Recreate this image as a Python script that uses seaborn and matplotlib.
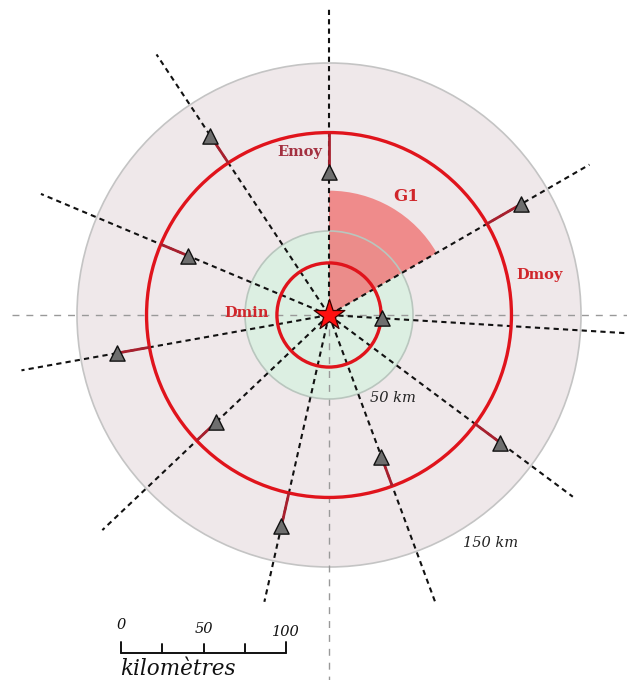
import numpy as np
import matplotlib
matplotlib.use("Agg")
import matplotlib.pyplot as plt
from matplotlib.patches import Circle, Wedge
import seaborn as sns
import pandas as pd

# ---- data (km / degrees) ----
station_angle = [90, 123.5, 157.2, 190.2, 223.5, 257.3, -69.7, -36.7, 30.0, -3.5]
station_dist = [85, 128, 91, 128, 92.5, 129, 90, 127, 132, 31.5]
ray_length = [183, 186, 186, 186, 186, 175, 182, 181, 179, 200]
has_residual = [True, True, True, True, True, True, True, True, True, False]

zone_radii = [150, 50]          # grey / green zones
d_min = 31                      # Dmin circle radius
d_moy = 108.6                   # Dmoy circle radius
g1_radius = 74
g1_angles = [30, 90]
scale_ticks = [0, 25, 50, 75, 100]
scale_labels = ["0", "50", "100"]
scale_label_vals = [0, 50, 100]

sns.set_style("white")
plt.rcParams["font.family"] = ["DejaVu Serif"]

fig = plt.figure(figsize=(6.27, 6.80), dpi=100)
ax = fig.add_axes([0, 0, 1, 1])
ax.set_xlim(-195.83, 177.38)
ax.set_ylim(-217.26, 187.5)
ax.set_aspect("equal")
ax.axis("off")

# zones
ax.add_patch(Circle((0, 0), zone_radii[0], facecolor="#efe8ea", edgecolor="#c4c4c4", lw=1.2, zorder=1))
ax.add_patch(Circle((0, 0), zone_radii[1], facecolor="#dcefe2", edgecolor="none", zorder=2))

# grey reference axes
ax.plot([-188.7, 190], [0, 0], color="#999999", lw=1.0, ls=(0, (5, 5)), zorder=3)
ax.plot([0, 0], [0, -220], color="#999999", lw=1.0, ls=(0, (5, 5)), zorder=3)

# G1 sector
ax.add_patch(Wedge((0, 0), g1_radius, g1_angles[0], g1_angles[1], facecolor="#f07474", alpha=0.8,
                   edgecolor="none", zorder=4))
ax.add_patch(Circle((0, 0), zone_radii[1], facecolor="none", edgecolor="#b9c6be", lw=1.2, zorder=4.5))

ang = np.deg2rad(np.array(station_angle))
dist = np.array(station_dist)
ray = np.array(ray_length)

# rays
for a, L in zip(ang, ray):
    ax.plot([0, L * np.cos(a)], [0, L * np.sin(a)], color="#111111", lw=1.5,
            ls=(0, (2.5, 2.0)), zorder=5)

# Dmin / Dmoy circles
ax.add_patch(Circle((0, 0), d_min, facecolor="none", edgecolor="#e0141c", lw=2.4, zorder=6))
ax.add_patch(Circle((0, 0), d_moy, facecolor="none", edgecolor="#e0141c", lw=2.4, zorder=6))

# residual segments
for a, d, flag in zip(ang, dist, has_residual):
    if flag:
        ax.plot([d * np.cos(a), d_moy * np.cos(a)], [d * np.sin(a), d_moy * np.sin(a)],
                color="#a8202e", lw=2.0, zorder=6.5, solid_capstyle="butt")

# stations
df = pd.DataFrame({"x": dist * np.cos(ang), "y": dist * np.sin(ang)})
sns.scatterplot(data=df, x="x", y="y", marker="^", s=120, color="#6e6e6e",
                edgecolor="#111111", linewidth=1.0, ax=ax, zorder=7)
# epicentre
sns.scatterplot(x=[0], y=[0], marker="*", s=540, color="#ff1010", edgecolor="#3a0000",
                linewidth=0.9, ax=ax, zorder=8)

# labels
ax.text(-4, 97, "Emoy", color="#a33040", fontsize=10.5, fontweight="bold", ha="right", va="center", zorder=9)
ax.text(45.8, 70.8, "G1", color="#d0262b", fontsize=12, fontweight="bold", ha="center", va="center", zorder=9)
ax.text(125.6, 23.8, "Dmoy", color="#d0262b", fontsize=10.5, fontweight="bold", ha="center", va="center", zorder=9)
ax.text(-36, 1.2, "Dmin", color="#d0262b", fontsize=10.5, fontweight="bold", ha="right", va="center", zorder=9)
ax.text(38, -49.4, "50 km", color="#222222", fontsize=10.5, style="italic", ha="center", va="center", zorder=9)
ax.text(96.4, -135.7, "150 km", color="#222222", fontsize=10.5, style="italic", ha="center", va="center", zorder=9)

# scale bar
x0, ybar = -123.8, -201.2
sx = [x0 + v * 0.982 for v in scale_ticks]
ax.plot([sx[0], sx[-1]], [ybar, ybar], color="#111111", lw=1.4, zorder=9)
for i, x in enumerate(sx):
    top = ybar + (6.6 if i in (0, len(sx) - 1) else 5.5)
    ax.plot([x, x], [ybar, top], color="#111111", lw=1.4, zorder=9)
label_y = [-184.5, -186.9, -188.7]
for lab, v, yy in zip(scale_labels, scale_label_vals, label_y):
    ax.text(x0 + v * 0.982, yy, lab, fontsize=10.5, style="italic", ha="center", va="center", color="#111111")
ax.text(x0 - 0.5, -210.5, "kilomètres", fontsize=15.5, style="italic", ha="left", va="center", color="#111111")

fig.savefig("out.png", dpi=100)
